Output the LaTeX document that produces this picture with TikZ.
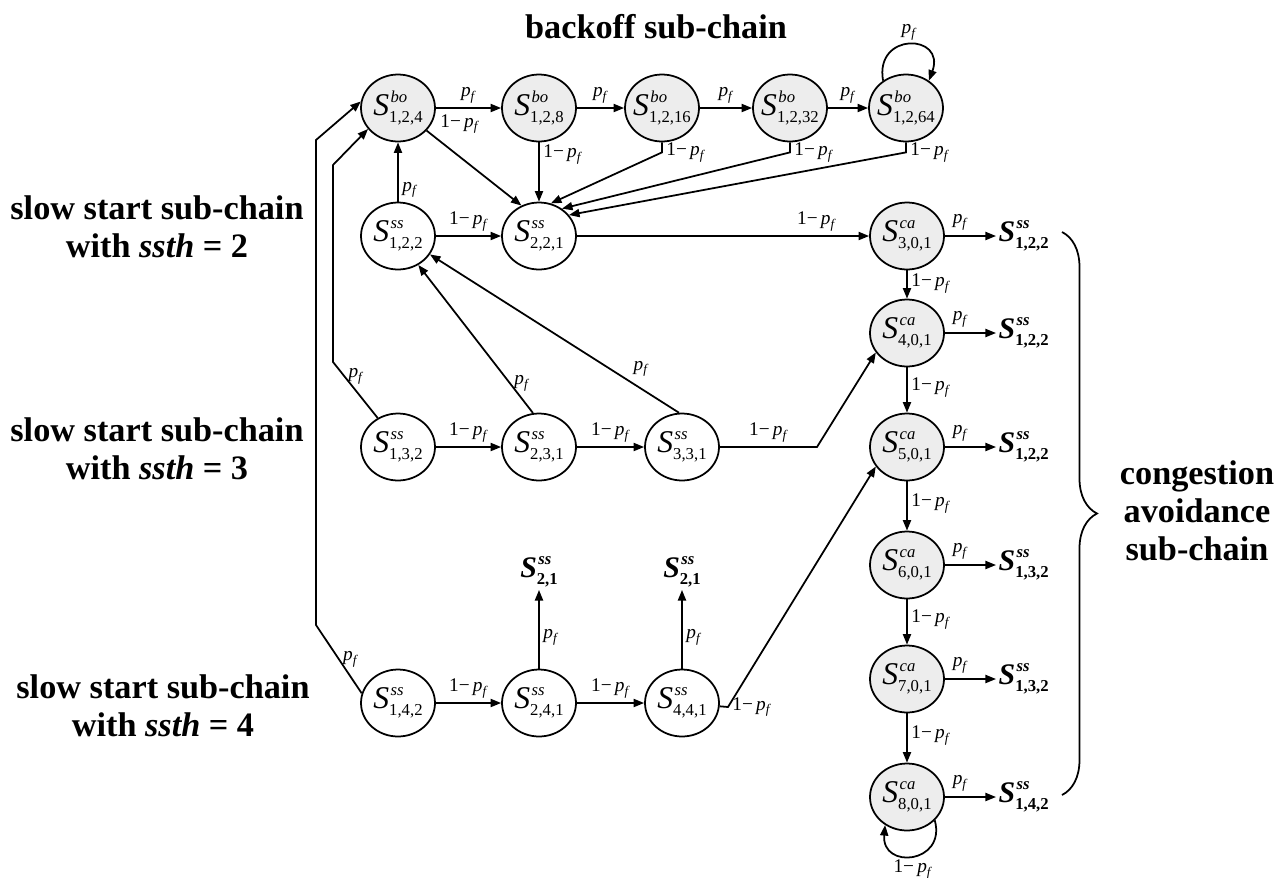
\documentclass[tikz,border=0pt]{standalone}
\usepackage{fontspec}
\setmainfont{Liberation Serif}
\usetikzlibrary{arrows.meta,shapes.geometric,decorations.pathreplacing}

% state symbol: kind on top, indices below
\newcommand{\sst}[2]{\textit{S}\rlap{\kern0.8pt\raisebox{7.5pt}{\fontsize{9.5}{10}\selectfont\textit{#1}}}\raisebox{-4pt}{\fontsize{9.5}{10}\selectfont #2}}
\newcommand{\pf}{\textit{p}\raisebox{-2.2pt}{\fontsize{7.5}{8}\selectfont\textit{f}}}
\newcommand{\npf}{1−\,\pf}

\begin{document}
\begin{tikzpicture}[x=0.02cm, y=0.02cm, line width=1pt,
		ssnode/.style={ellipse, draw, minimum width=1.48cm, minimum height=1.34cm, inner sep=-2pt, font=\fontsize{18}{18}\selectfont},
		grnode/.style={ssnode, fill=black!7},
		tgnode/.style={inner sep=1pt, font=\bfseries\fontsize{17}{17}\selectfont},
		lbl/.style={inner sep=2pt, font=\fontsize{11}{12}\selectfont},
		grp/.style={align=center, font=\bfseries\fontsize{19.5}{21.5}\selectfont},
		arr/.style={-{Triangle[length=6pt, width=4.6pt]}}]
	\useasboundingbox (0,0) rectangle (1286,-877);
	% names of the sub-chains
	\node[grp] (nbo) at (656,-27) {backoff sub-chain};
	\node[grp] (nss2) at (157,-227) {slow start sub-chain\\with \textit{ssth} = 2};
	\node[grp] (nss3) at (157,-449) {slow start sub-chain\\with \textit{ssth} = 3};
	\node[grp] (nss4) at (163,-706) {slow start sub-chain\\with \textit{ssth} = 4};
	\node[grp] (nca) at (1197,-511) {congestion\\avoidance\\sub-chain};
	\draw[decorate, decoration={brace, amplitude=0.7cm}] (1062,-232) -- (1062,-795);
	% backoff states
	\foreach \x/\k in {398/4, 539/8, 662/16, 790/32, 906/64}
		\node[grnode] (bo\k) at (\x,-108) {\sst{bo}{1,2,\k}};
	% slow start states
	\foreach \x/\y/\n/\t in {398/236/122/{1,2,2}, 539/236/221/{2,2,1}, 398/447/132/{1,3,2}, 539/447/231/{2,3,1}, 682/447/331/{3,3,1}, 398/703/142/{1,4,2}, 539/703/241/{2,4,1}, 682/703/441/{4,4,1}}
		\node[ssnode] (s\n) at (\x,-\y) {\sst{ss}{\t}};
	% congestion avoidance states and where they fall back to
	\foreach \i/\y/\t in {3/236/{1,2,2}, 4/333/{1,2,2}, 5/447/{1,2,2}, 6/565/{1,3,2}, 7/679/{1,3,2}, 8/797/{1,4,2}} {
		\node[grnode] (ca\i) at (907,-\y) {\sst{ca}{\i,0,1}};
		\node[tgnode, anchor=west] (tg\i) at (996,-\y) {\sst{ss}{\t}};
		\draw[arr] (ca\i) -- node[lbl, above=1pt, pos=0.3] {\pf} (tg\i);
	}
	\foreach \i/\j in {3/4, 4/5, 5/6, 6/7, 7/8}
		\draw[arr] (ca\i) -- node[lbl, right, pos=0.45] {\npf} (ca\j);
	\draw[arr] (ca8.-40) .. controls +(-75:45) and +(-95:45) .. (ca8.-128) node[lbl, below, pos=0.5] {\npf};
	% backoff transitions
	\foreach \a/\b in {4/8, 8/16, 16/32, 32/64}
		\draw[arr] (bo\a) -- node[lbl, above] {\pf} (bo\b);
	\draw[arr] (bo64.130) .. controls +(100:50) and +(70:50) .. (bo64.50) node[lbl, above, pos=0.5] {\pf};
	\draw[arr] (bo4) -- node[lbl, above right, pos=0.1] {\npf} (s221.120);
	\draw[arr] (bo8) -- node[lbl, right, pos=0.2] {\npf} (s221);
	\foreach \k/\a in {16/70, 32/50, 64/35}
		\draw[arr] (bo\k.south) -- ++(0,-10) node[lbl, right] {\npf} -- (s221.\a);
	% slow start with ssth = 2
	\draw[arr] (s122) -- node[lbl, right, pos=0.2] {\pf} (bo4);
	\draw[arr] (s122) -- node[lbl, above] {\npf} (s221);
	\draw[arr] (s221) -- node[lbl, above, pos=0.82] {\npf} (ca3);
	% slow start with ssth = 3
	\draw[arr] (s132.125) -- node[lbl, right, pos=0.75] {\pf} (333,-362) -- (333,-165) -- (bo4.215);
	\draw[arr] (s132) -- node[lbl, above] {\npf} (s231);
	\draw[arr] (s231) -- node[lbl, above] {\npf} (s331);
	\draw[arr] (s231.100) -- node[lbl, right, pos=0.2] {\pf} (s122.-55);
	\draw[arr] (s331.95) -- node[lbl, above right, pos=0.2] {\pf} (s122.-30);
	\draw[arr] (s331) -- node[lbl, above] {\npf} (817,-447) -- (ca4.212);
	% slow start with ssth = 4
	\draw[arr] (s142.165) -- node[lbl, right, pos=0.5] {\pf} (316,-625) -- (316,-140) -- (bo4.170);
	\draw[arr] (s142) -- node[lbl, above] {\npf} (s241);
	\draw[arr] (s241) -- node[lbl, above] {\npf} (s441);
	\node[tgnode] (u241) at (539,-572) {\sst{ss}{2,1}};
	\node[tgnode] (u441) at (682,-572) {\sst{ss}{2,1}};
	\draw[arr] (s241) -- node[lbl, right, pos=0.4] {\pf} (s241 |- u241.south);
	\draw[arr] (s441) -- node[lbl, right, pos=0.4] {\pf} (s441 |- u441.south);
	\draw[arr] (s441.-5) -- (728,-707) node[lbl, right] {\npf} -- (ca5.212);
\end{tikzpicture}
\end{document}
